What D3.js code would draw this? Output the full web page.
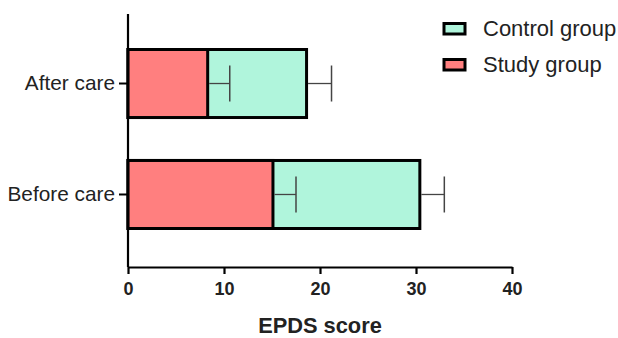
<!DOCTYPE html>
<html>
<head>
<meta charset="utf-8">
<script src="https://cdn.jsdelivr.net/npm/d3@7"></script>
<style>
  body { margin: 0; background: #fff; }
  svg { font-family: "Liberation Sans", Arial, sans-serif; }
</style>
</head>
<body>
<div id="chart"></div>
<script>
// chart values
const categories = ['After care', 'Before care'];
const controlMean = [18.6, 30.4];
const controlErr = [2.6, 2.55];
const studyMean = [8.3, 15.1];
const studyErr = [2.3, 2.4];
const xTicks = [0, 10, 20, 30, 40];
const seriesNames = ['Control group', 'Study group'];
const seriesColors = ['#b0f5dc', '#ff7f7f'];

const width = 618, height = 338;
const margin = {top: 14, left: 128, right: 106, bottom: 71};
const font = '"Liberation Sans", Arial, sans-serif';

const svg = d3.select('#chart').append('svg')
    .attr('width', width)
    .attr('height', height);

const x = d3.scaleLinear()
    .domain([0, 40])
    .range([margin.left, width - margin.right]);

const y = d3.scaleBand()
    .domain(categories)
    .range([49.5, 228.5])
    .paddingInner(0.387)
    .paddingOuter(0);

const bw = y.bandwidth();

// bars: control first, study overlaid on top
const series = [
    {mean: controlMean, err: controlErr, color: seriesColors[0]},
    {mean: studyMean, err: studyErr, color: seriesColors[1]}
];

series.forEach(s => {
    svg.append('g').selectAll('rect')
        .data(categories)
        .join('rect')
        .attr('x', x(0))
        .attr('y', d => y(d))
        .attr('width', (d, i) => x(s.mean[i]) - x(0))
        .attr('height', bw)
        .attr('fill', s.color)
        .attr('stroke', '#000')
        .attr('stroke-width', 3);
});

// error bars (one-sided, to the right)
series.forEach(s => {
    const g = svg.append('g');
    categories.forEach((c, i) => {
        const cy = y(c) + bw / 2;
        const x0 = x(s.mean[i]) + 1.5, x1 = x(s.mean[i] + s.err[i]);
        g.append('line')
            .attr('x1', x0).attr('x2', x1)
            .attr('y1', cy).attr('y2', cy)
            .attr('stroke', '#444').attr('stroke-width', 1.3);
        g.append('line')
            .attr('x1', x1).attr('x2', x1)
            .attr('y1', cy - 18).attr('y2', cy + 18)
            .attr('stroke', '#444').attr('stroke-width', 1.5);
    });
});

// x axis
const xAxis = svg.append('g')
    .attr('transform', `translate(0,${height - margin.bottom})`)
    .call(d3.axisBottom(x).tickValues(xTicks).tickSize(7).tickSizeOuter(0).tickPadding(8));
xAxis.select('.domain').attr('stroke-width', 2.2);
xAxis.selectAll('.tick line').attr('stroke-width', 2.2);
xAxis.selectAll('.tick text')
    .attr('font-size', 18).attr('font-weight', 'bold').attr('fill', '#222')
    .attr('font-family', font);

// y axis
const yAxis = svg.append('g')
    .attr('transform', `translate(${margin.left},0)`)
    .call(d3.axisLeft(y).tickSize(9).tickSizeOuter(0).tickPadding(4));
yAxis.select('.domain')
    .attr('d', `M0,${margin.top}V${height - margin.bottom}`)
    .attr('stroke-width', 2.2);
yAxis.selectAll('.tick line').attr('stroke-width', 2);
yAxis.selectAll('.tick text')
    .attr('font-size', 20.8).attr('fill', '#222')
    .attr('font-family', font);

// axis title
svg.append('text')
    .attr('x', x(20))
    .attr('y', 333)
    .attr('text-anchor', 'middle')
    .attr('font-size', 21.8)
    .attr('font-weight', 'bold')
    .attr('fill', '#222')
    .text('EPDS score');

// legend
const legend = svg.append('g')
    .selectAll('g')
    .data(seriesNames)
    .join('g')
    .attr('transform', (d, i) => `translate(444,${23.5 + i * 36})`);
legend.append('rect')
    .attr('width', 21).attr('height', 10.5)
    .attr('fill', (d, i) => seriesColors[i])
    .attr('stroke', '#000').attr('stroke-width', 3);
legend.append('text')
    .attr('x', 39).attr('y', 12.8)
    .attr('font-size', 22).attr('fill', '#222')
    .text(d => d);
</script>
</body>
</html>
